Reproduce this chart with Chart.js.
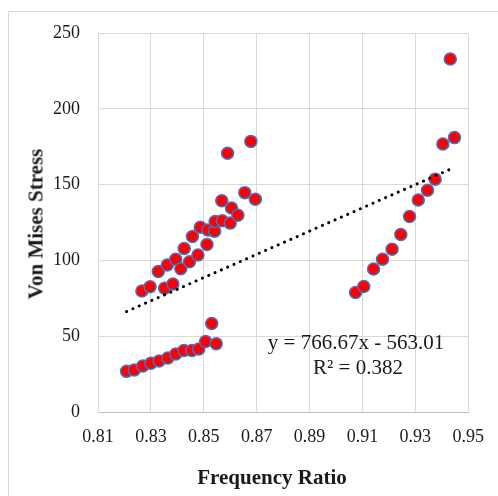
<!DOCTYPE html>
<html>
<head>
<meta charset="utf-8">
<script src="https://cdn.jsdelivr.net/npm/chart.js@4/dist/chart.umd.min.js"></script>
<style>
  body { margin: 0; background: #fff; overflow: hidden; }
  #wrap { position: relative; width: 498px; height: 496px; overflow: hidden; }
  #frame { position: absolute; left: 8px; top: 11px; width: 600px; height: 600px; border: 1px solid #d9d9d9; }
  canvas { position: absolute; left: 0; top: 0; }
  .txt { position: absolute; font-family: "Liberation Serif", "Times New Roman", serif; color: #1a1a1a; white-space: nowrap; line-height: 1; }
  .axis-title { font-weight: bold; font-size: 21px; }
  #xTitle { left: 272px; top: 477px; transform: translate(-50%, -50%); }
  #yTitle { left: 36px; top: 224px; transform: translate(-50%, -50%) rotate(-90deg); }
  .eq { font-size: 21px; transform: translate(-50%, -50%); }
</style>
</head>
<body>
<div id="wrap">
  <div id="frame"></div>
  <canvas id="chart" width="498" height="496"></canvas>
  <div id="xTitle" class="txt axis-title">Frequency Ratio</div>
  <div id="yTitle" class="txt axis-title">Von Mises Stress</div>
  <div id="eqLine" class="txt eq" style="left:356px; top:342px;"></div>
  <div id="r2Line" class="txt eq" style="left:358px; top:367px;"></div>
</div>
<script>

/* DATA */

const frequencyRatio = [
  0.8208, 0.8237, 0.8269, 0.8300, 0.8331, 0.8364, 0.8394, 0.8425, 0.8455, 0.8481,
  0.8507, 0.8530, 0.8547,
  0.8266, 0.8297, 0.8328, 0.8352, 0.8362, 0.8383, 0.8394, 0.8413, 0.8426, 0.8446,
  0.8457, 0.8478, 0.8487, 0.8512, 0.8516, 0.8541, 0.8543, 0.8570, 0.8568, 0.8600,
  0.8605, 0.8590, 0.8629, 0.8655, 0.8678, 0.8695,
  0.9074, 0.9105, 0.9142, 0.9176, 0.9212, 0.9245, 0.9278, 0.9311, 0.9346, 0.9375,
  0.9404, 0.9432, 0.9448
];

const vonMisesStress = [
  26.8, 27.7, 30.3, 32.2, 33.6, 35.6, 38.3, 40.6, 40.6, 41.6,
  46.5, 58.4, 45.0,
  79.8, 82.6, 92.7, 81.6, 96.9, 84.4, 100.8, 94.5, 107.8, 99.1,
  115.7, 103.5, 121.9, 110.5, 120.0, 119.3, 125.6, 126.1, 139.3, 124.6,
  134.5, 170.7, 129.8, 144.7, 178.5, 140.4,
  78.8, 82.8, 94.3, 100.8, 107.4, 117.1, 128.9, 139.9, 146.3, 153.6,
  176.8, 232.9, 181.0
];

/* TREND LINE (from the chart label) */

const trendSlope = 766.67;
const trendIntercept = -563.01;
const trendR2 = 0.382;

/* AXES */

const xMin = 0.81, xMax = 0.95, xStep = 0.02;
const yMin = 0, yMax = 250, yStep = 50;

/* BUILD POINTS */

const points = frequencyRatio.map((x, i) => ({ x: x, y: vonMisesStress[i] }));

const trendX = [Math.min(...frequencyRatio), Math.max(...frequencyRatio)];
const trendPoints = trendX.map(x => ({ x: x, y: trendSlope * x + trendIntercept }));

/* LABEL TEXT */

document.getElementById("eqLine").innerText =
  "y = " + trendSlope + "x - " + Math.abs(trendIntercept);
document.getElementById("r2Line").innerText =
  "R\u00B2 = " + trendR2;

/* CHART */

const tickFont = { family: "'Liberation Serif', 'Times New Roman', serif", size: 18 };

new Chart(document.getElementById("chart"), {
  type: "scatter",
  data: {
    datasets: [
      {
        type: "line",
        data: trendPoints,
        borderColor: "#000000",
        borderWidth: 3,
        borderDash: [0.1, 6.8],
        borderCapStyle: "round",
        pointRadius: 0,
        fill: false,
        order: 0
      },
      {
        data: points,
        backgroundColor: "#FF0000",
        borderColor: "#4472C4",
        borderWidth: 1.5,
        pointRadius: 6,
        order: 1
      }
    ]
  },
  options: {
    responsive: false,
    animation: false,
    layout: { padding: { top: 33, right: 25, left: 0, bottom: 0 } },
    plugins: {
      legend: { display: false },
      tooltip: { enabled: false }
    },
    scales: {
      x: {
        type: "linear",
        min: xMin,
        max: xMax,
        afterFit: s => { s.height = 84; },
        ticks: {
          stepSize: xStep,
          padding: 14,
          color: "#1a1a1a",
          font: tickFont,
          callback: v => Number(v).toFixed(2)
        },
        grid: { color: "#d9d9d9", drawTicks: false },
        border: { color: "#bfbfbf" }
      },
      y: {
        type: "linear",
        min: yMin,
        max: yMax,
        afterFit: s => { s.width = 98; },
        ticks: {
          stepSize: yStep,
          padding: 18,
          color: "#1a1a1a",
          font: tickFont
        },
        grid: { color: "#d9d9d9", drawTicks: false },
        border: { color: "#d9d9d9" }
      }
    }
  }
});
</script>
</body>
</html>
